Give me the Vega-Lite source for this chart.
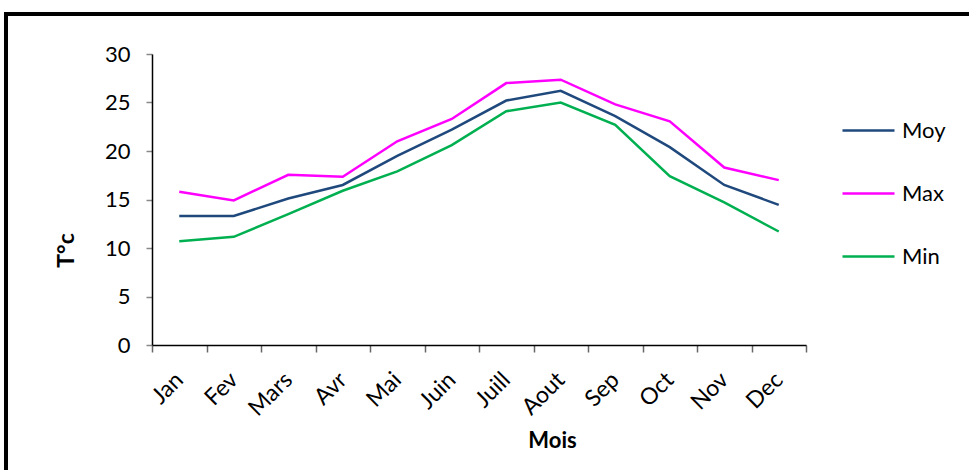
{
  "$schema": "https://vega.github.io/schema/vega-lite/v6.json",
  "width": 654,
  "height": 291,
  "autosize": {"type": "none"},
  "padding": {"left": 152, "top": 54, "right": 163, "bottom": 125},
  "background": "white",
  "config": {"view": {"stroke": null}, "font": "Lato"},
  "datasets": {
    "temp": [
      {"mois": "Jan", "serie": "Moy", "t": 13.3},
      {"mois": "Fev", "serie": "Moy", "t": 13.3},
      {"mois": "Mars", "serie": "Moy", "t": 15.1},
      {"mois": "Avr", "serie": "Moy", "t": 16.5},
      {"mois": "Mai", "serie": "Moy", "t": 19.5},
      {"mois": "Juin", "serie": "Moy", "t": 22.2},
      {"mois": "Juill", "serie": "Moy", "t": 25.2},
      {"mois": "Aout", "serie": "Moy", "t": 26.2},
      {"mois": "Sep", "serie": "Moy", "t": 23.6},
      {"mois": "Oct", "serie": "Moy", "t": 20.4},
      {"mois": "Nov", "serie": "Moy", "t": 16.5},
      {"mois": "Dec", "serie": "Moy", "t": 14.45},
      {"mois": "Jan", "serie": "Max", "t": 15.8},
      {"mois": "Fev", "serie": "Max", "t": 14.9},
      {"mois": "Mars", "serie": "Max", "t": 17.55},
      {"mois": "Avr", "serie": "Max", "t": 17.35},
      {"mois": "Mai", "serie": "Max", "t": 21.0},
      {"mois": "Juin", "serie": "Max", "t": 23.3},
      {"mois": "Juill", "serie": "Max", "t": 27.0},
      {"mois": "Aout", "serie": "Max", "t": 27.35},
      {"mois": "Sep", "serie": "Max", "t": 24.8},
      {"mois": "Oct", "serie": "Max", "t": 23.05},
      {"mois": "Nov", "serie": "Max", "t": 18.3},
      {"mois": "Dec", "serie": "Max", "t": 17.0},
      {"mois": "Jan", "serie": "Min", "t": 10.7},
      {"mois": "Fev", "serie": "Min", "t": 11.15},
      {"mois": "Mars", "serie": "Min", "t": 13.5},
      {"mois": "Avr", "serie": "Min", "t": 15.9},
      {"mois": "Mai", "serie": "Min", "t": 17.9},
      {"mois": "Juin", "serie": "Min", "t": 20.6},
      {"mois": "Juill", "serie": "Min", "t": 24.1},
      {"mois": "Aout", "serie": "Min", "t": 25.0},
      {"mois": "Sep", "serie": "Min", "t": 22.7},
      {"mois": "Oct", "serie": "Min", "t": 17.4},
      {"mois": "Nov", "serie": "Min", "t": 14.7},
      {"mois": "Dec", "serie": "Min", "t": 11.7}
    ]
  },
  "layer": [
    {
      "data": {"values": [{}]},
      "mark": {"type": "rect", "fill": null, "stroke": "black", "strokeWidth": 4, "clip": false},
      "encoding": {
        "x": {"value": -146},
        "x2": {"value": 830},
        "y": {"value": -40},
        "y2": {"value": 430}
      }
    },
    {
      "data": {"name": "temp"},
      "mark": {"type": "line", "strokeWidth": 2.5},
      "encoding": {
        "x": {
          "field": "mois",
          "type": "ordinal",
          "bandPosition": 0.5,
          "sort": ["Jan", "Fev", "Mars", "Avr", "Mai", "Juin", "Juill", "Aout", "Sep", "Oct", "Nov", "Dec"],
          "scale": {"type": "band", "paddingInner": 0, "paddingOuter": 0},
          "axis": {
            "title": "Mois",
            "titleFont": "Lato",
            "titleFontSize": 22,
            "titleFontWeight": "bold",
            "titleColor": "black",
            "titleX": 400,
            "titleY": 102,
            "titleBaseline": "alphabetic",
            "labelAngle": -45,
            "labelAlign": "right",
            "labelBaseline": "middle",
            "labelFontSize": 23,
            "labelColor": "black",
            "labelPadding": 24,
            "labelFont": "Lato",
            "tickBand": "extent",
            "tickSize": 7,
            "tickColor": "#666666",
            "tickWidth": 1.5,
            "domainColor": "black",
            "domainWidth": 1.5
          }
        },
        "y": {
          "field": "t",
          "type": "quantitative",
          "scale": {"domain": [0, 30], "nice": false},
          "axis": {
            "title": "T°c",
            "titleFont": "Lato",
            "titleFontSize": 23,
            "titleFontWeight": "bold",
            "titleColor": "black",
            "titleAngle": -90,
            "titleAlign": "center",
            "titleBaseline": "middle",
            "titleX": -86,
            "titleY": 196,
            "values": [0, 5, 10, 15, 20, 25, 30],
            "grid": false,
            "labelFontSize": 22,
            "labelColor": "black",
            "labelFont": "Lato",
            "labelPadding": 16,
            "tickSize": 6,
            "tickColor": "#888888",
            "tickWidth": 1.5,
            "domainColor": "black",
            "domainWidth": 1.5
          }
        },
        "color": {
          "field": "serie",
          "type": "nominal",
          "scale": {"domain": ["Moy", "Max", "Min"], "range": ["#1F497D", "#FF00FF", "#00B050"]},
          "legend": {
            "title": null,
            "orient": "none",
            "legendX": 689,
            "legendY": 49,
            "symbolType": "stroke",
            "symbolSize": 2704,
            "symbolStrokeWidth": 2.5,
            "labelFontSize": 22,
            "labelFont": "Lato",
            "labelColor": "black",
            "labelOffset": 6,
            "rowPadding": 24
          }
        }
      }
    }
  ]
}
